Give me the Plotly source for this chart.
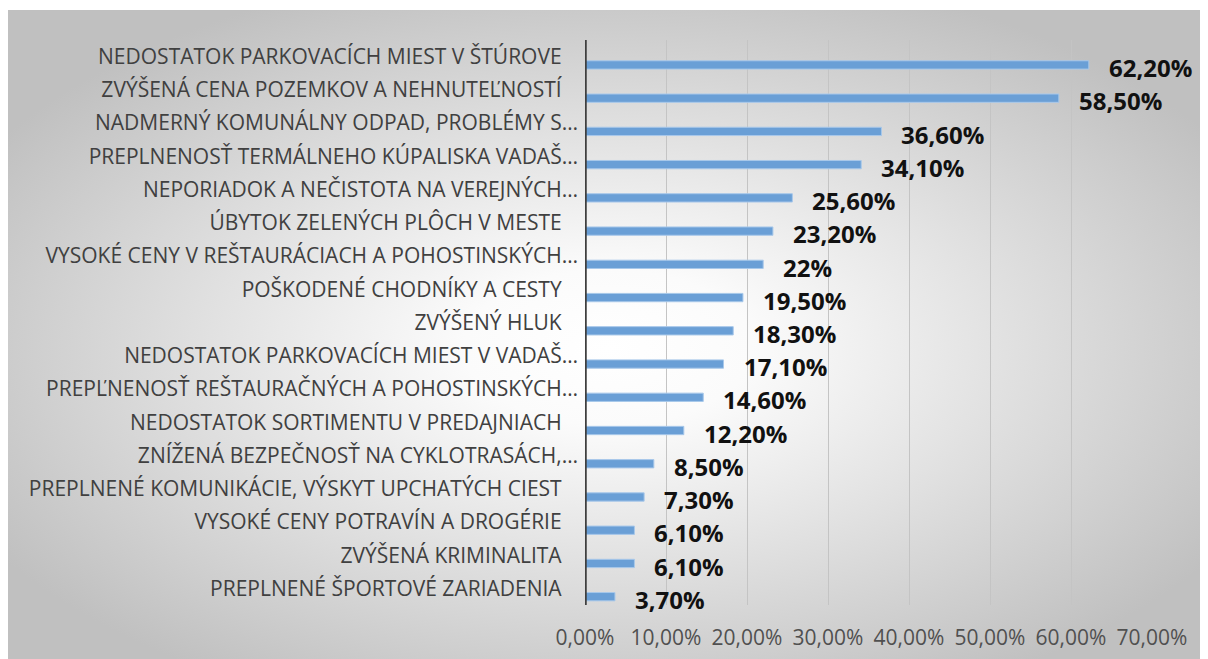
import base64
import plotly.graph_objects as go

categories = [
    "NEDOSTATOK PARKOVACÍCH MIEST V ŠTÚROVE",
    "ZVÝŠENÁ CENA POZEMKOV A NEHNUTEĽNOSTÍ",
    "NADMERNÝ KOMUNÁLNY ODPAD, PROBLÉMY S…",
    "PREPLNENOSŤ TERMÁLNEHO KÚPALISKA VADAŠ…",
    "NEPORIADOK A NEČISTOTA NA VEREJNÝCH…",
    "ÚBYTOK ZELENÝCH PLÔCH V MESTE",
    "VYSOKÉ CENY V REŠTAURÁCIACH A POHOSTINSKÝCH…",
    "POŠKODENÉ CHODNÍKY A CESTY",
    "ZVÝŠENÝ HLUK",
    "NEDOSTATOK PARKOVACÍCH MIEST V VADAŠ…",
    "PREPĽNENOSŤ REŠTAURAČNÝCH A POHOSTINSKÝCH…",
    "NEDOSTATOK SORTIMENTU V PREDAJNIACH",
    "ZNÍŽENÁ BEZPEČNOSŤ NA CYKLOTRASÁCH,…",
    "PREPLNENÉ KOMUNIKÁCIE, VÝSKYT UPCHATÝCH CIEST",
    "VYSOKÉ CENY POTRAVÍN A DROGÉRIE",
    "ZVÝŠENÁ KRIMINALITA",
    "PREPLNENÉ ŠPORTOVÉ ZARIADENIA",
]
values = [62.2, 58.5, 36.6, 34.1, 25.6, 23.2, 22.0, 19.5, 18.3, 17.1,
          14.6, 12.2, 8.5, 7.3, 6.1, 6.1, 3.7]
value_labels = ["62,20%", "58,50%", "36,60%", "34,10%", "25,60%", "23,20%",
                "22%", "19,50%", "18,30%", "17,10%", "14,60%", "12,20%",
                "8,50%", "7,30%", "6,10%", "6,10%", "3,70%"]
x_ticks = [0, 10, 20, 30, 40, 50, 60, 70]
x_tick_labels = ["0,00%", "10,00%", "20,00%", "30,00%", "40,00%",
                 "50,00%", "60,00%", "70,00%"]

# tick text: untruncated labels carry trailing space as in the original
ticktext = [c if c.endswith("…") else c + "\u00a0\u00a0\u00a0" for c in categories]
ypos = list(range(len(categories)))

# radial gradient background
svg = """<svg xmlns='http://www.w3.org/2000/svg' width='1200' height='650' viewBox='0 0 1200 650' preserveAspectRatio='none'>
<defs><radialGradient id='g' cx='50%' cy='52%' r='60%' fx='50%' fy='52%'>
<stop offset='0%' stop-color='#ffffff'/>
<stop offset='20%' stop-color='#fbfbfb'/>
<stop offset='100%' stop-color='#c0c0c0'/>
</radialGradient></defs>
<rect width='1200' height='650' fill='url(#g)'/></svg>"""
src = "data:image/svg+xml;base64," + base64.b64encode(svg.encode()).decode()

# the page body adds an 8px margin, so the figure is 1200x651
W, H = 1200, 651
ml, mr, mt, mb = 577, 56, 32, 54
pw = W - ml - mr
ph = H - mt - mb

fig = go.Figure()
fig.add_trace(go.Bar(
    y=ypos, x=values, orientation="h",
    width=0.25, offset=0.125,
    marker=dict(color="#6a9fd6", line=dict(color="#a8c8ea", width=1)),
    hoverinfo="skip",
))

for yi, v, t in zip(ypos, values, value_labels):
    fig.add_annotation(
        x=v, y=yi, text=f"<b>{t}</b>", showarrow=False,
        xanchor="left", yanchor="middle", xshift=18, yshift=-11,
        font=dict(family="Open Sans", size=24, color="#111111"),
    )

fig.add_layout_image(
    source=src, xref="paper", yref="paper",
    x=(0 - ml) / pw, y=(H - mb - 2) / ph,
    sizex=W / pw, sizey=(H - 2) / ph,
    xanchor="left", yanchor="top", sizing="stretch", layer="below",
)

fig.update_layout(
    width=W, height=H,
    margin=dict(l=ml, r=mr, t=mt, b=mb, pad=0, autoexpand=False),
    paper_bgcolor="white", plot_bgcolor="rgba(0,0,0,0)",
    showlegend=False,
    font=dict(family="Open Sans", color="#404040"),
    xaxis=dict(
        range=[0, 70], tickvals=x_ticks, ticktext=x_tick_labels,
        showgrid=True, gridcolor="#c4c4c4", gridwidth=1,
        zeroline=False, showline=False, ticks="",
        tickfont=dict(family="Open Sans", size=21, color="#505050"),
        ticklabelstandoff=18, fixedrange=True, automargin=False,
    ),
    yaxis=dict(
        range=[len(categories) - 0.5, -0.5],
        tickvals=ypos, ticktext=ticktext,
        showgrid=False, zeroline=False,
        showline=False, ticks="",
        tickfont=dict(family="Open Sans", size=21, color="#404040"),
        ticklabelstandoff=6, fixedrange=True, automargin=False,
    ),
    shapes=[dict(type="line", xref="x", yref="paper", x0=0, x1=0, y0=0, y1=1,
                 line=dict(color="#3f3f3f", width=3.5))],
)

fig.write_html("out.html")
